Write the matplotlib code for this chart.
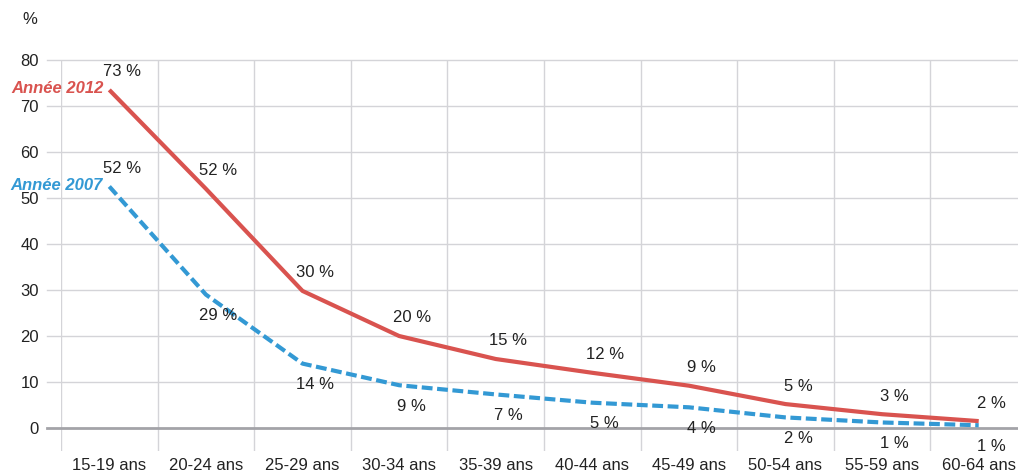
import matplotlib
matplotlib.use("Agg")
import matplotlib.pyplot as plt
import numpy as np

categories = ["15-19 ans", "20-24 ans", "25-29 ans", "30-34 ans", "35-39 ans",
              "40-44 ans", "45-49 ans", "50-54 ans", "55-59 ans", "60-64 ans"]
values_2012 = [73.5, 52, 29.8, 20, 15, 12, 9.2, 5.2, 3, 1.5]
values_2007 = [52.5, 29, 14, 9.3, 7.3, 5.5, 4.5, 2.3, 1.2, 0.6]
labels_2012 = ["73 %", "52 %", "30 %", "20 %", "15 %", "12 %", "9 %", "5 %", "3 %", "2 %"]
labels_2007 = ["52 %", "29 %", "14 %", "9 %", "7 %", "5 %", "4 %", "2 %", "1 %", "1 %"]
yticks = [0, 10, 20, 30, 40, 50, 60, 70, 80]

RED = "#d9534f"
BLUE = "#3399d4"
GRID = "#d4d4d8"
TXT = "#222222"
FS = 12

plt.rcParams['font.family'] = ['Liberation Sans', 'DejaVu Sans']

W, H = 1018, 475
fig = plt.figure(figsize=(W / 100, H / 100), dpi=100)
left, right = 61, 1027
top, bottom = 60, 451
ax = fig.add_axes([left / W, (H - bottom) / H, (right - left) / W, (bottom - top) / H])

x = np.arange(len(categories))
ax.set_xlim(-0.5, len(categories) - 0.5)
ax.set_ylim(-5, 80)

for s in ax.spines.values():
    s.set_visible(False)

# horizontal grid lines (only 0..80), extended left as tick marks
for yv in yticks:
    if yv == 0:
        continue
    ax.plot([-0.5 - 14 / 96.6, len(categories) - 0.5], [yv, yv], color=GRID, lw=1,
            clip_on=False, zorder=1)
ax.plot([-0.5 - 14 / 96.6, len(categories) - 0.5], [0, 0], color="#a3a3a8", lw=2,
        clip_on=False, zorder=2)

# vertical grid lines at band boundaries
for b in np.arange(-0.5, len(categories), 1.0):
    ax.axvline(b, color=GRID, lw=1, zorder=1)

ax.set_yticks(yticks)
ax.set_yticklabels([str(v) for v in yticks], fontsize=FS, color=TXT)
ax.tick_params(axis='y', length=0, pad=16)
ax.set_xticks(x)
ax.set_xticklabels(categories, fontsize=FS, color=TXT)
ax.tick_params(axis='x', length=0, pad=5)

ax.plot(x, values_2012, color=RED, lw=3, solid_capstyle='butt', zorder=4)
ax.plot(x, values_2007, color=BLUE, lw=3, dashes=(2.6, 1.1), zorder=3)

for i, (v, t) in enumerate(zip(values_2012, labels_2012)):
    ax.annotate(t, (x[i], v), xytext=(9, 13), textcoords='offset points',
                ha='center', va='center', fontsize=FS, color=TXT)
for i, (v, t) in enumerate(zip(values_2007, labels_2007)):
    off = (9, 13) if i == 0 else (9, -15)
    ax.annotate(t, (x[i], v), xytext=off, textcoords='offset points',
                ha='center', va='center', fontsize=FS, color=TXT)

ax.annotate("Année 2012", (x[0], values_2012[0]), xytext=(-4, 1), textcoords='offset points',
            ha='right', va='center', fontsize=FS, color=RED, fontweight='bold', fontstyle='italic')
ax.annotate("Année 2007", (x[0], values_2007[0]), xytext=(-5, 1), textcoords='offset points',
            ha='right', va='center', fontsize=FS, color=BLUE, fontweight='bold', fontstyle='italic')

fig.text(30 / W, 1 - 20 / H, "%", ha='center', va='center', fontsize=FS, color=TXT)

fig.savefig("out.png", dpi=100)
